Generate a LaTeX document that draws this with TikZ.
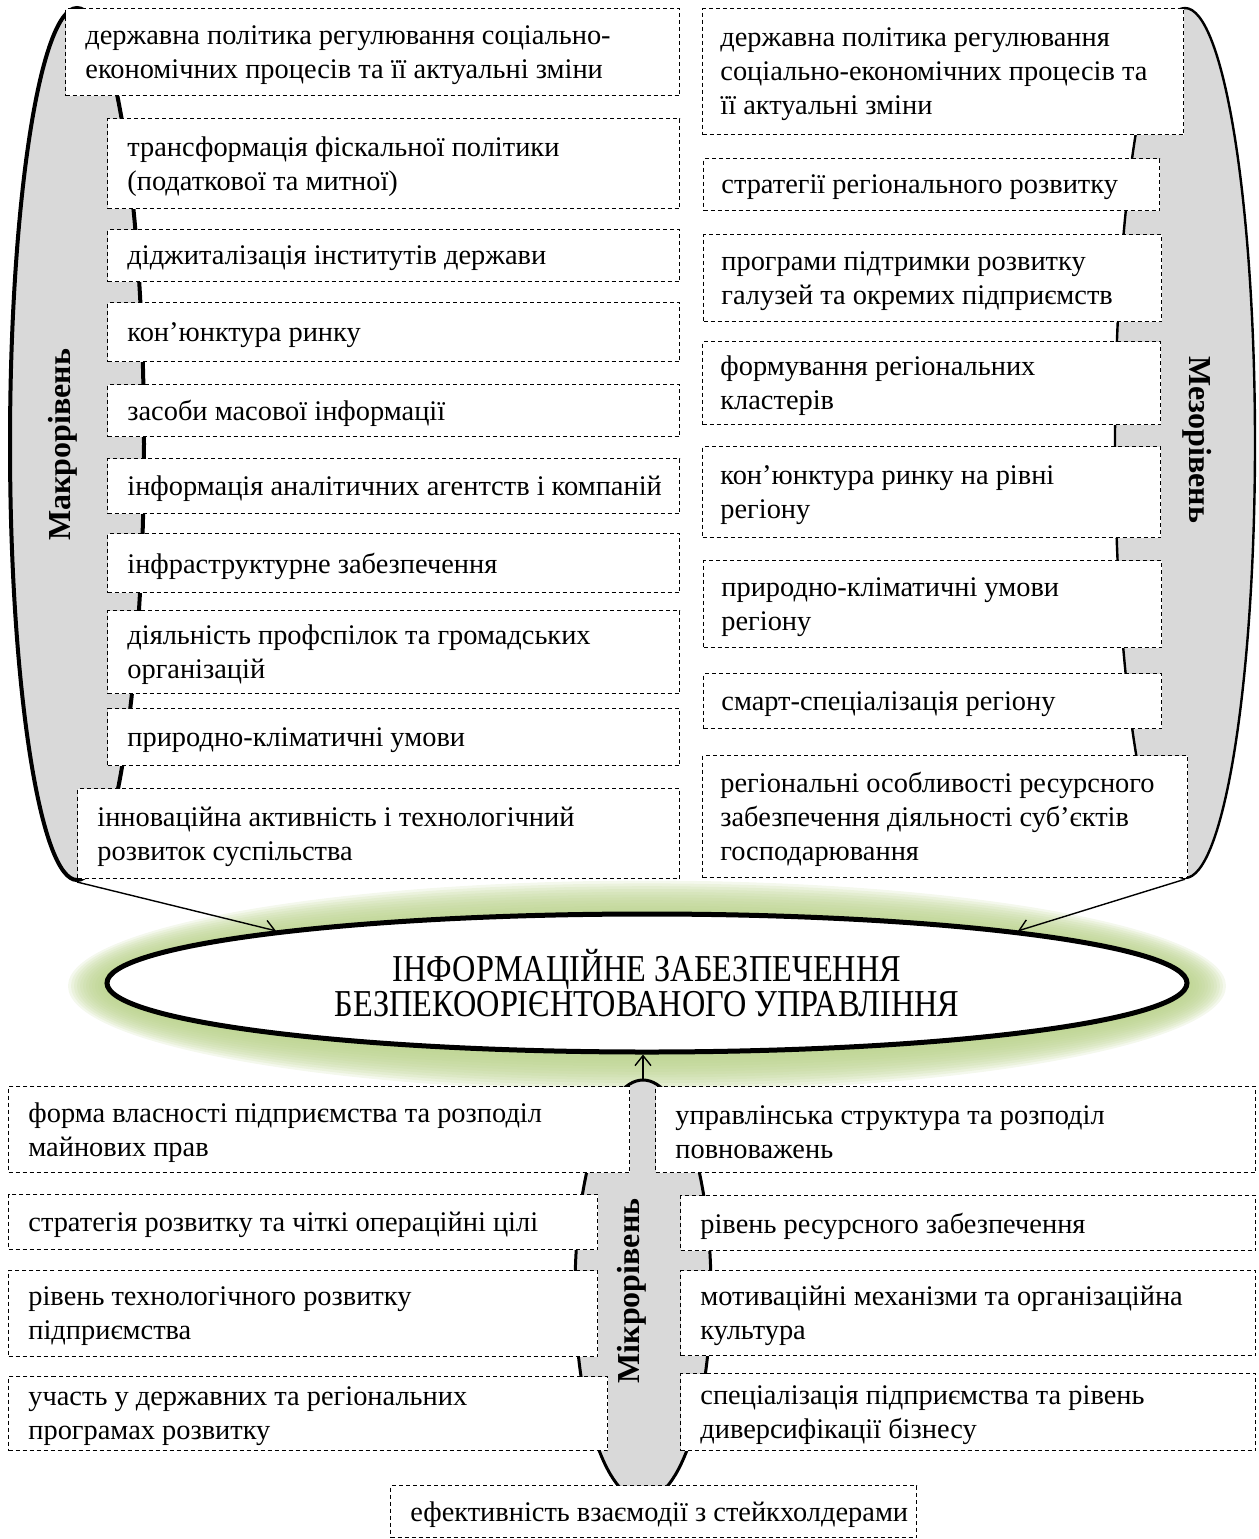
\documentclass[tikz,border=0pt]{standalone}
\usepackage{fontspec}
\setmainfont{Liberation Serif}
\newfontfamily\narrowfont[FakeStretch=0.85]{Liberation Serif}
\usetikzlibrary{arrows.meta,shapes.geometric}
\definecolor{levelgrey}{RGB}{217,217,217}
\definecolor{glowgreen}{RGB}{186,210,140}
\tikzset{
  factor/.style={draw, line width=0.5pt, dash pattern=on 2pt off 1.5pt, fill=white, anchor=north west, inner sep=0pt},
  ftext/.style={anchor=west, xshift=10pt, yshift=-1.5pt, align=left, inner sep=0pt, font=\fontsize{14.2pt}{17pt}\selectfont},
  level/.style={ellipse, draw, fill=levelgrey, inner sep=0pt},
  levellabel/.style={inner sep=0pt, font=\fontsize{16pt}{19pt}\selectfont\bfseries},
  feed/.style={line width=0.7pt, -{Straight Barb[length=5pt,width=8pt]}}
}

\begin{document}
\begin{tikzpicture}[x=0.5pt, y=-0.5pt]
\useasboundingbox (0,0) rectangle (1259,1539);
\coordinate (corec) at (647,983);
\foreach \g in {1,...,13}
  \fill[glowgreen, opacity=0.16] ([yshift=-1.5pt]corec) ellipse ({270pt+\g*1.5pt} and {34.5pt+\g*1.4pt});
\node[level, line width=2pt, minimum width=67pt, minimum height=436pt] (macro) at (77,444) {};
\node[level, line width=1.2pt, minimum width=70pt, minimum height=435pt] (meso) at (1185,443) {};
\node[level, line width=1.5pt, minimum width=68pt, minimum height=210pt] (micro) at (643,1290) {};
\node[factor, minimum width=307pt, minimum height=43.5pt, label={[ftext]west:{державна політика регулювання соціально-\\економічних процесів та її актуальні зміни}}] (ma1) at (65,8) {};
\node[factor, minimum width=286pt, minimum height=45pt, label={[ftext]west:{трансформація фіскальної політики\\(податкової та митної)}}] (ma2) at (107,118) {};
\node[factor, minimum width=286pt, minimum height=26pt, label={[ftext]west:{діджиталізація інститутів держави}}] (ma3) at (107,229) {};
\node[factor, minimum width=286pt, minimum height=29.5pt, label={[ftext]west:{кон’юнктура ринку}}] (ma4) at (107,302) {};
\node[factor, minimum width=286pt, minimum height=26pt, label={[ftext]west:{засоби масової інформації}}] (ma5) at (107,384) {};
\node[factor, minimum width=286pt, minimum height=27.5pt, label={[ftext]west:{інформація аналітичних агентств і компаній}}] (ma6) at (107,458) {};
\node[factor, minimum width=286pt, minimum height=29.5pt, label={[ftext]west:{інфраструктурне забезпечення}}] (ma7) at (107,533) {};
\node[factor, minimum width=286pt, minimum height=41.5pt, label={[ftext]west:{діяльність профспілок та громадських\\організацій}}] (ma8) at (107,610) {};
\node[factor, minimum width=286pt, minimum height=28.5pt, label={[ftext]west:{природно-кліматичні умови}}] (ma9) at (107,708) {};
\node[factor, minimum width=301pt, minimum height=45pt, label={[ftext]west:{інноваційна активність і технологічний\\розвиток суспільства}}] (ma10) at (77,788) {};
\node[factor, minimum width=240.5pt, minimum height=63pt, label={[ftext, xshift=-1pt]west:{державна політика регулювання\\соціально-економічних процесів та\\її актуальні зміни}}] (me1) at (702,8) {};
\node[factor, minimum width=228pt, minimum height=26pt, label={[ftext, xshift=-1pt]west:{стратегії регіонального розвитку}}] (me2) at (703,158) {};
\node[factor, minimum width=229pt, minimum height=43.5pt, label={[ftext, xshift=-1pt]west:{програми підтримки розвитку\\галузей та окремих підприємств}}] (me3) at (703,234) {};
\node[factor, minimum width=229pt, minimum height=41.5pt, label={[ftext, xshift=-1pt]west:{формування регіональних\\кластерів}}] (me4) at (702,341) {};
\node[factor, minimum width=229pt, minimum height=45.5pt, label={[ftext, xshift=-1pt]west:{кон’юнктура ринку на рівні\\регіону}}] (me5) at (702,446) {};
\node[factor, minimum width=229pt, minimum height=43.5pt, label={[ftext, xshift=-1pt]west:{природно-кліматичні умови\\регіону}}] (me6) at (703,560) {};
\node[factor, minimum width=229pt, minimum height=27.5pt, label={[ftext, xshift=-1pt]west:{смарт-спеціалізація регіону}}] (me7) at (703,673) {};
\node[factor, minimum width=242.5pt, minimum height=61pt, label={[ftext, xshift=-1pt]west:{регіональні особливості ресурсного\\забезпечення діяльності суб’єктів\\господарювання}}] (me8) at (702,755) {};
\node[factor, minimum width=310.5pt, minimum height=43pt, label={[ftext]west:{форма власності підприємства та розподіл\\майнових прав}}] (mi1) at (8,1086) {};
\node[factor, minimum width=294.5pt, minimum height=27.5pt, label={[ftext]west:{стратегія розвитку та чіткі операційні цілі}}] (mi2) at (8,1194) {};
\node[factor, minimum width=294.5pt, minimum height=43pt, label={[ftext]west:{рівень технологічного розвитку\\підприємства}}] (mi3) at (8,1270) {};
\node[factor, minimum width=299.5pt, minimum height=37pt, label={[ftext]west:{участь у державних та регіональних\\програмах розвитку}}] (mi4) at (8,1376) {};
\node[factor, minimum width=300pt, minimum height=43pt, label={[ftext]west:{управлінська структура та розподіл\\повноважень}}] (mi5) at (655,1086) {};
\node[factor, minimum width=287.5pt, minimum height=27.5pt, label={[ftext]west:{рівень ресурсного забезпечення}}] (mi6) at (680,1195) {};
\node[factor, minimum width=287.5pt, minimum height=42.5pt, label={[ftext]west:{мотиваційні механізми та організаційна\\культура}}] (mi7) at (680,1270) {};
\node[factor, minimum width=287.5pt, minimum height=38.5pt, label={[ftext]west:{спеціалізація підприємства та рівень\\диверсифікації бізнесу}}] (mi8) at (680,1373) {};
\node[factor, minimum width=263pt, minimum height=26pt, label={[ftext]west:{ефективність взаємодії з стейкхолдерами}}] (mi9) at (390,1485) {};
\node[levellabel, rotate=90] (macrolbl) at (63,445) {Макрорівень};
\node[levellabel, rotate=-90] (mesolbl) at (1197,440) {Мезорівень};
\node[levellabel, rotate=90] (microlbl) at (632,1291) {Мікрорівень};
\node[ellipse, draw, line width=2.5pt, fill=white, minimum width=540pt, minimum height=69pt, inner sep=0pt, align=center, font=\narrowfont\fontsize{19pt}{17.5pt}\selectfont] (core) at (corec) {ІНФОРМАЦІЙНЕ ЗАБЕЗПЕЧЕННЯ\\БЕЗПЕКООРІЄНТОВАНОГО УПРАВЛІННЯ};
\draw[feed] (macro.south) -- (core.172);
\draw[feed] (meso.south) -- (core.8);
\draw[feed] (micro.north) -- (micro.north |- core.south);
\end{tikzpicture}
\end{document}
